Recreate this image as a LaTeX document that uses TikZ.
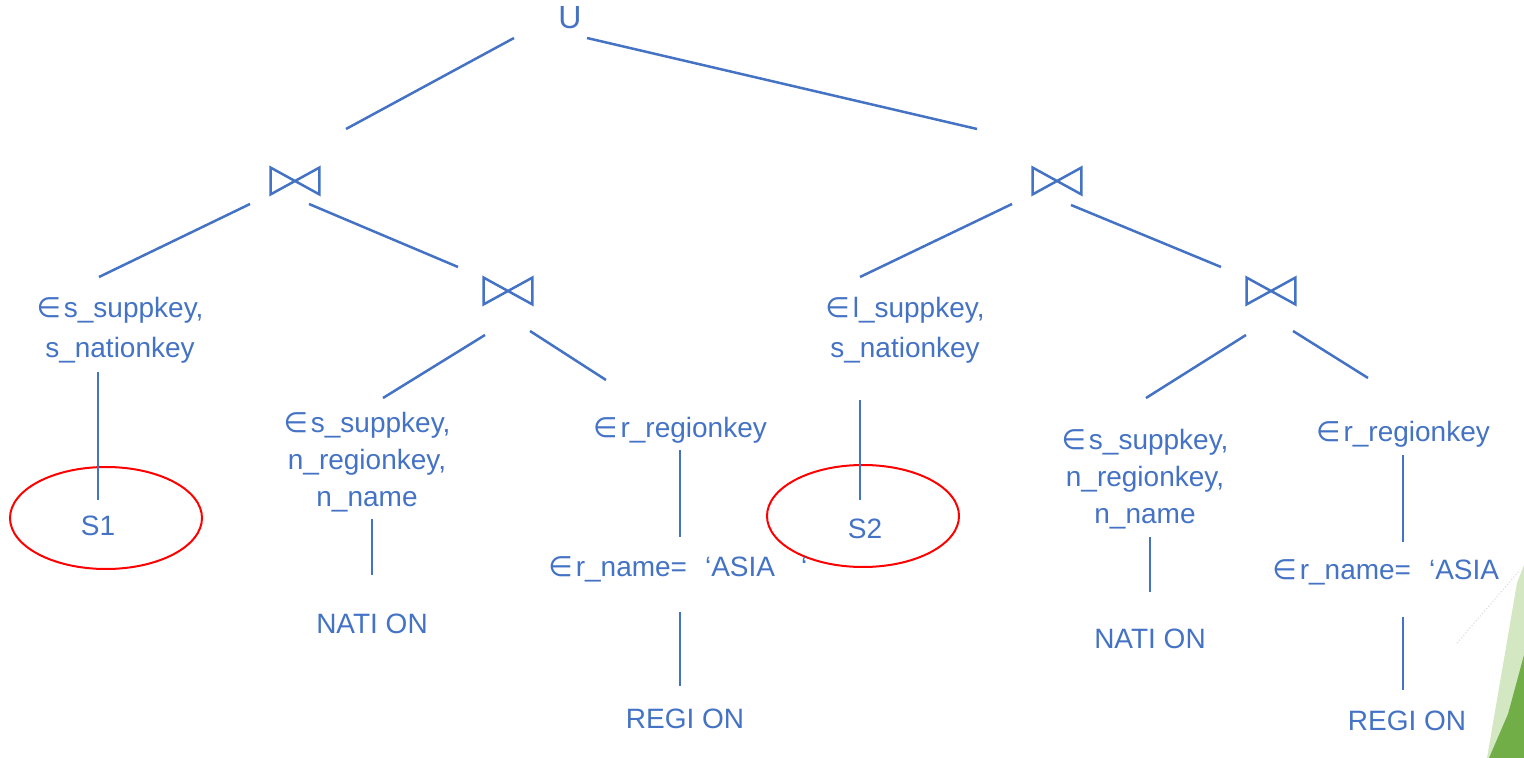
\documentclass[tikz,border=0pt]{standalone}
\usepackage{fontspec}
\setmainfont{Liberation Sans}
\newfontfamily\symf{DejaVu Sans}
\usetikzlibrary{shapes.geometric}
\definecolor{tb}{HTML}{4472C4}
\definecolor{lightg}{HTML}{D3E7C2}
\definecolor{darkg}{HTML}{72AE48}
\newcommand\elm{{\symf\char"2208}\hspace{1.5pt}}
\begin{document}
\begin{tikzpicture}[x=0.5pt,y=-0.5pt,
  ln/.style={draw=tb, line width=1.25pt},
  lbl/.style={text=tb, font=\fontsize{14}{20}\selectfont, align=center, inner sep=0pt},
  lblb/.style={lbl, font=\fontsize{14}{18.5}\selectfont},
  jn/.style={minimum width=24pt, minimum height=13pt, inner sep=0pt},
  ell/.style={ellipse, draw=red, line width=1pt, minimum width=96pt, minimum height=51pt, inner sep=0pt}]
\useasboundingbox (0,0) rectangle (1524,758);
% background decoration
\fill[lightg] (1517,583) -- (1524,565) -- (1524,758) -- (1487,758) -- cycle;
\fill[darkg] (1524,655) -- (1524,758) -- (1489,758) -- (1508,714) -- cycle;
\draw[gray!25, densely dotted, line width=0.6pt] (1457,643) -- (1520,570);
% red ellipses
\node[ell] (e1) at (106,518) {};
\node[ell] (e2) at (863,516) {};
% nodes
\node[lbl, font=\fontsize{16}{20}\selectfont] (U) at (570,18) {U};
\node[jn] (j1) at (295,181) {};
\node[jn] (j2) at (1057,181) {};
\node[jn] (j3) at (508,291) {};
\node[jn] (j4) at (1271,291) {};
\foreach \j in {j1,j2,j3,j4}
  \draw[ln, line join=miter] (\j.north west) -- (\j.south west) -- (\j.north east) -- (\j.south east) -- cycle;
\node[lbl] (p1) at (120,330) {\elm s\_suppkey,\\s\_nationkey};
\node[lbl] (p2) at (905,330) {\elm l\_suppkey,\\s\_nationkey};
\node[lblb] (p3) at (367,462) {\elm s\_suppkey,\\n\_regionkey,\\n\_name};
\node[lblb] (p4) at (1145,479) {\elm s\_suppkey,\\n\_regionkey,\\n\_name};
\node[lbl] (r1) at (680,430) {\elm r\_regionkey};
\node[lbl] (r2) at (1403,434) {\elm r\_regionkey};
\node[lbl, anchor=west] (rn1) at (548,569) {\elm r\_name=\hspace{9pt}`ASIA\hspace{13pt}`};
\node[lbl, anchor=west] (rn2) at (1272,572) {\elm r\_name=\hspace{9pt}`ASIA};
\node[lbl] (S1) at (98,526) {S1};
\node[lbl] (S2) at (865,529) {S2};
\node[lbl] (n1) at (372,624) {NATI ON};
\node[lbl] (n2) at (1150,639) {NATI ON};
\node[lbl] (g1) at (685,719) {REGI ON};
\node[lbl] (g2) at (1407,721) {REGI ON};
% connectors
\draw[ln] ([shift={(-56,20)}]U.center) -- ([shift={(51,-52)}]j1.center);
\draw[ln] ([shift={(17,20)}]U.center) -- ([shift={(-80,-52)}]j2.center);
\draw[ln] ([shift={(-45,23)}]j1.center) -- ([shift={(-21,-53)}]p1.center);
\draw[ln] ([shift={(14,23)}]j1.center) -- ([shift={(-50,-24)}]j3.center);
\draw[ln] ([shift={(-45,23)}]j2.center) -- ([shift={(-45,-53)}]p2.center);
\draw[ln] ([shift={(14,24)}]j2.center) -- ([shift={(-50,-24)}]j4.center);
\draw[ln] ([shift={(-23,44)}]j3.center) -- ([shift={(16,-64)}]p3.center);
\draw[ln] ([shift={(22,40)}]j3.center) -- ([shift={(-74,-50)}]r1.center);
\draw[ln] ([shift={(-25,44)}]j4.center) -- ([shift={(1,-81)}]p4.center);
\draw[ln] ([shift={(22,40)}]j4.center) -- ([shift={(-35,-56)}]r2.center);
\draw[ln] ([shift={(-22,42)}]p1.center) -- ([shift={(0,-26)}]S1.center);
\draw[ln] ([shift={(-45,70)}]p2.center) -- ([shift={(-5,-29)}]S2.center);
\draw[ln] ([shift={(5,57)}]p3.center) -- ([shift={(0,-49)}]n1.center);
\draw[ln] ([shift={(0,20)}]r1.center) -- ([shift={(132,-32)}]rn1.west);
\draw[ln] ([shift={(132,43)}]rn1.west) -- ([shift={(-5,-33)}]g1.center);
\draw[ln] ([shift={(5,58)}]p4.center) -- ([shift={(0,-47)}]n2.center);
\draw[ln] ([shift={(0,21)}]r2.center) -- ([shift={(131,-30)}]rn2.west);
\draw[ln] ([shift={(131,45)}]rn2.west) -- ([shift={(-4,-31)}]g2.center);
\end{tikzpicture}
\end{document}
